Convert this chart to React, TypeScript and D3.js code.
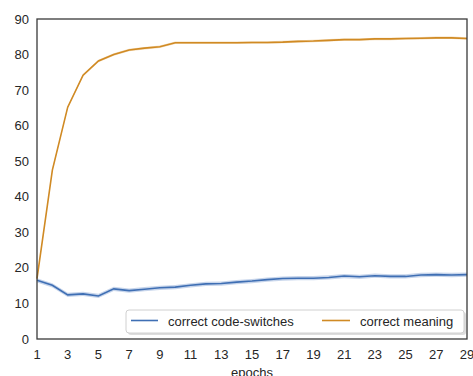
import React from "react";
import * as d3 from "d3";

const epochs = d3.range(1, 30);
const codeSwitches = [16.5, 15.1, 12.4, 12.7, 12.1, 14.1, 13.6, 14.0, 14.4, 14.6, 15.1, 15.5, 15.6, 16.0, 16.3, 16.7, 17.0, 17.1, 17.1, 17.3, 17.7, 17.5, 17.8, 17.6, 17.6, 18.0, 18.1, 18.0, 18.1];
const meaning = [17.0, 47.5, 65.2, 74.2, 78.2, 80.0, 81.3, 81.8, 82.2, 83.3, 83.3, 83.3, 83.3, 83.3, 83.4, 83.4, 83.5, 83.7, 83.8, 84.0, 84.2, 84.2, 84.4, 84.4, 84.5, 84.6, 84.7, 84.7, 84.5];
const bandCS = 0.6;
const bandM = 0.35;
const xTicks = [1, 3, 5, 7, 9, 11, 13, 15, 17, 19, 21, 23, 25, 27, 29];
const yTicks = [0, 10, 20, 30, 40, 50, 60, 70, 80, 90];
const labels = ["correct code-switches", "correct meaning"];
const colors = ["#3f6fb4", "#d08a24"];
const bandColors = ["#b9cbe6", "#f0d3a8"];

export default function App() {
  const W = 473, H = 376;
  const L = 37, R = 467, T = 19, B = 339;
  const x = d3.scaleLinear().domain([1, 29]).range([L, R]);
  const y = d3.scaleLinear().domain([0, 90]).range([B, T]);
  const line = d3.line<number>().x((_, i) => x(epochs[i])).y((d) => y(d));
  const area = (vals: number[], b: number) =>
    d3.area<number>().x((_, i) => x(epochs[i])).y0((d) => y(d - b)).y1((d) => y(d + b))(vals) || "";
  const font = "'Liberation Sans', Arial, sans-serif";
  return (
    <svg width={W} height={H} style={{ position: "absolute", left: 0, top: 0 }} fontFamily={font}>
      <rect x={0} y={0} width={W} height={H} fill="#fff" />
      <path d={area(codeSwitches, bandCS)} fill={bandColors[0]} opacity={0.8} />
      <path d={area(meaning, bandM)} fill={bandColors[1]} opacity={0.8} />
      <path d={line(codeSwitches) || ""} fill="none" stroke={colors[0]} strokeWidth={1.6} />
      <path d={line(meaning) || ""} fill="none" stroke={colors[1]} strokeWidth={1.6} />
      <rect x={L} y={T} width={R - L} height={B - T} fill="none" stroke="#3a3a3a" strokeWidth={1.3} />
      {yTicks.map((t) => (
        <text key={t} x={L - 8} y={y(t)} dy="0.35em" textAnchor="end" fontSize={13} fill="#262626">{t}</text>
      ))}
      {xTicks.map((t) => (
        <text key={t} x={x(t)} y={B + 20} textAnchor="middle" fontSize={13} fill="#262626">{t}</text>
      ))}
      <text x={(L + R) / 2} y={B + 38} textAnchor="middle" fontSize={13} fill="#262626">epochs</text>
      <g>
        <rect x={128} y={312} width={338} height={23} rx={3} fill="#bbb" opacity={0.5} />
        <rect x={126} y={310} width={338} height={23} rx={3} fill="#fff" stroke="#d0d0d0" strokeWidth={1} />
        <line x1={131} x2={158} y1={320.5} y2={320.5} stroke={colors[0]} strokeWidth={1.6} />
        <text x={168} y={321} dy="0.35em" fontSize={13} fill="#262626">{labels[0]}</text>
        <line x1={322} x2={350} y1={320.5} y2={320.5} stroke={colors[1]} strokeWidth={1.6} />
        <text x={360} y={321} dy="0.35em" fontSize={13} fill="#262626">{labels[1]}</text>
      </g>
    </svg>
  );
}
